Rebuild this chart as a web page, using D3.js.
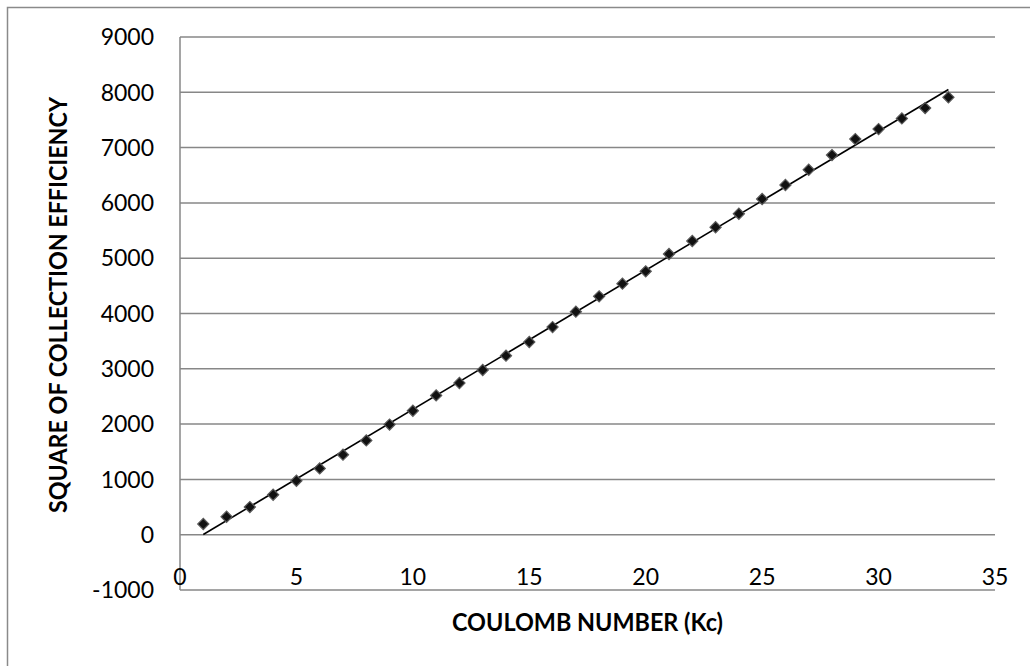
<!DOCTYPE html>
<html>
<head>
<meta charset="utf-8">
<script src="https://cdn.jsdelivr.net/npm/d3@7"></script>
<style>
  html, body { margin: 0; padding: 0; background: #fff; }
  svg { display: block; }
  text { font-family: Lato, "Open Sans", sans-serif; fill: #000; }
</style>
</head>
<body>
<svg id="chart" width="1030" height="666"></svg>
<script>
// Coulomb number Kc (x) and square of collection efficiency (y)
const kc = [1, 2, 3, 4, 5, 6, 7, 8, 9, 10, 11, 12, 13, 14, 15, 16, 17,
            18, 19, 20, 21, 22, 23, 24, 25, 26, 27, 28, 29, 30, 31, 32, 33];
const effSq = [193, 325, 500, 723, 976, 1199, 1447, 1705, 1992, 2242, 2519,
               2743, 2978, 3237, 3484, 3755, 4033, 4310, 4539, 4762, 5076,
               5311, 5560, 5804, 6070, 6323, 6600, 6865, 7154, 7335, 7527,
               7715, 7909];
const xTicks = [0, 5, 10, 15, 20, 25, 30, 35];
const yTicks = [-1000, 0, 1000, 2000, 3000, 4000, 5000, 6000, 7000, 8000, 9000];

const svg = d3.select("#chart");
const plotL = 180, plotR = 995, plotT = 37, plotB = 590;

const x = d3.scaleLinear().domain([0, 35]).range([plotL, plotR]);
const y = d3.scaleLinear().domain([-1000, 9000]).range([plotB, plotT]);

// chart frame
svg.append("rect")
  .attr("x", 7.5).attr("y", 7.5)
  .attr("width", 1040).attr("height", 700)
  .attr("fill", "none").attr("stroke", "#8a8a8a").attr("stroke-width", 1.5);

// horizontal gridlines
svg.append("g")
  .selectAll("line")
  .data(yTicks.filter(v => v > -1000))
  .join("line")
  .attr("x1", plotL).attr("x2", plotR)
  .attr("y1", d => y(d)).attr("y2", d => y(d))
  .attr("stroke", "#878787").attr("stroke-width", 1.5);

// axis lines
svg.append("line")
  .attr("x1", plotL).attr("x2", plotR)
  .attr("y1", y(-1000)).attr("y2", y(-1000))
  .attr("stroke", "#878787").attr("stroke-width", 1.5);
svg.append("line")
  .attr("x1", plotL).attr("x2", plotL)
  .attr("y1", plotT).attr("y2", plotB)
  .attr("stroke", "#878787").attr("stroke-width", 1.5);

// y tick labels
svg.append("g")
  .selectAll("text")
  .data(yTicks)
  .join("text")
  .attr("x", 154)
  .attr("y", d => y(d))
  .attr("dy", "0.36em")
  .attr("text-anchor", "end")
  .attr("font-size", 23)
  .text(d => d);

// x tick labels
svg.append("g")
  .selectAll("text")
  .data(xTicks)
  .join("text")
  .attr("x", d => x(d))
  .attr("y", 585)
  .attr("text-anchor", "middle")
  .attr("font-size", 23)
  .text(d => d);

// least-squares linear trendline over the data range
const mx = d3.mean(kc), my = d3.mean(effSq);
const sxy = d3.sum(kc, (v, i) => (v - mx) * (effSq[i] - my));
const sxx = d3.sum(kc, v => (v - mx) * (v - mx));
const slope = sxy / sxx, intercept = my - slope * mx;
const xs = d3.extent(kc);
svg.append("path")
  .datum(xs.map(v => [v, intercept + slope * v]))
  .attr("d", d3.line().x(d => x(d[0])).y(d => y(d[1])))
  .attr("fill", "none").attr("stroke", "#000").attr("stroke-width", 1.6);

// diamond markers
const diamond = d3.symbol().type(d3.symbolSquare).size(62);
svg.append("g")
  .selectAll("path")
  .data(kc.map((v, i) => [v, effSq[i]]))
  .join("path")
  .attr("d", diamond)
  .attr("transform", d => `translate(${x(d[0])},${y(d[1])}) rotate(45)`)
  .attr("fill", "#111").attr("stroke", "#5a5a5a").attr("stroke-width", 1.2);

// axis titles
svg.append("text")
  .attr("x", (plotL + plotR) / 2).attr("y", 631)
  .attr("text-anchor", "middle")
  .attr("font-size", 25).attr("font-weight", "bold")
  .attr("textLength", 271).attr("lengthAdjust", "spacingAndGlyphs")
  .text("COULOMB NUMBER (Kc)");

svg.append("text")
  .attr("transform", "translate(67,305) rotate(-90)")
  .attr("text-anchor", "middle")
  .attr("font-size", 25).attr("font-weight", "bold")
  .attr("textLength", 416).attr("lengthAdjust", "spacingAndGlyphs")
  .text("SQUARE OF COLLECTION EFFICIENCY");
</script>
</body>
</html>
